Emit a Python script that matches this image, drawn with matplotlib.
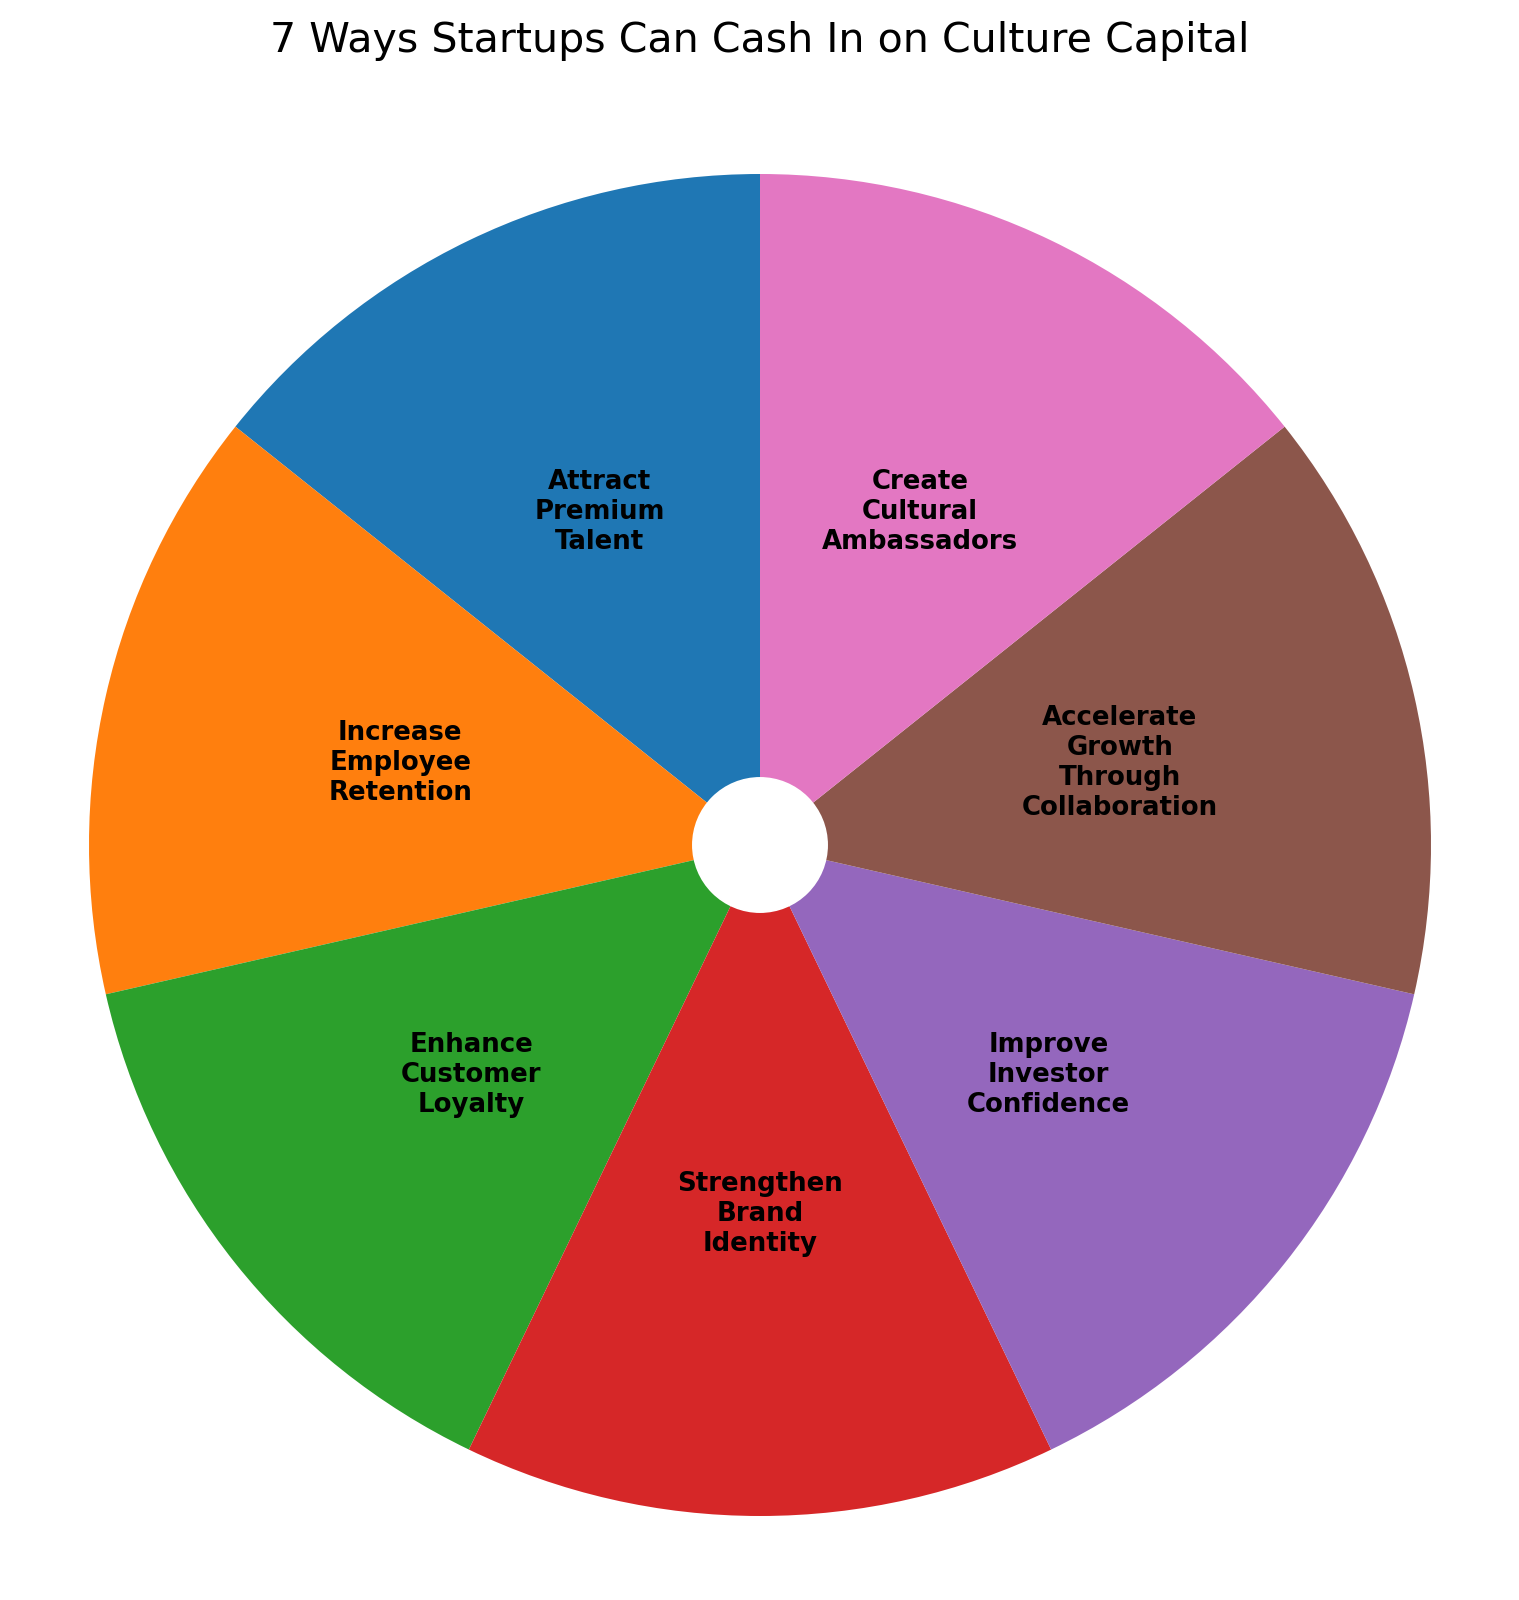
import matplotlib
matplotlib.use("Agg")
from matplotlib import pyplot as plt

# the seven slices, counter-clockwise from the top
labels = ["Attract\nPremium\nTalent",
          "Increase\nEmployee\nRetention",
          "Enhance\nCustomer\nLoyalty",
          "Strengthen\nBrand\nIdentity",
          "Improve\nInvestor\nConfidence",
          "Accelerate\nGrowth\nThrough\nCollaboration",
          "Create\nCultural\nAmbassadors"]
sizes = [1, 1, 1, 1, 1, 1, 1]
colors = ["#1f77b4", "#ff7f0e", "#2ca02c", "#d62728", "#9467bd", "#8c564b", "#e377c2"]
title = "7 Ways Startups Can Cash In on Culture Capital"

W, H = 1519, 1600
fig = plt.figure(figsize=(W / 125, H / 125), dpi=125)

# place the axes so the pie sits where it does in the reference
ax = fig.add_axes([89 / W, (H - 1516) / H, 1342 / W, 1342 / H])
wedges, texts = ax.pie(sizes, labels=labels, colors=colors, startangle=90,
                       labeldistance=0.55,
                       textprops=dict(fontsize=15, fontweight="bold",
                                      ha="center", va="center"))
ax.add_artist(plt.Circle((0, 0), 0.1, color="white"))
ax.set_xlim(-1, 1)
ax.set_ylim(-1, 1)
ax.set_aspect("equal")

fig.text(0.5, 1 - 52 / H, title, fontsize=23.7, ha="center", va="baseline")

fig.savefig("out.png", dpi=125)
